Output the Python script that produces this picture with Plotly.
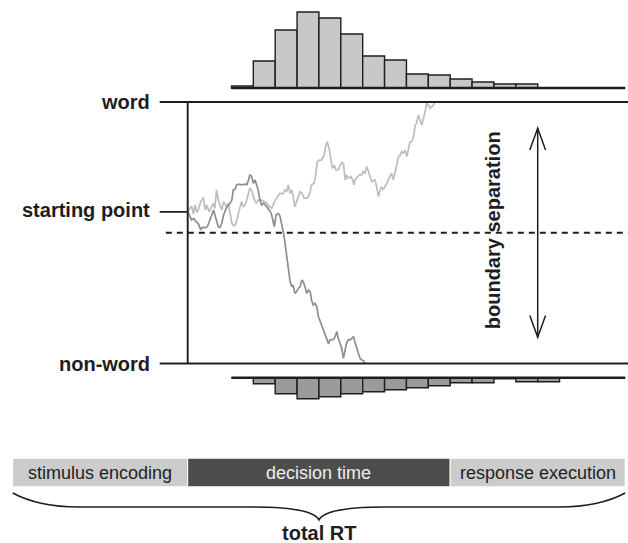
import numpy as np
import plotly.graph_objects as go

# ---------------- data ----------------
stage_labels = ["stimulus encoding", "decision time", "response execution"]
stage_ms = [400, 600, 400]                      # durations of the RT components (ms)

boundary_labels = ["word", "starting point", "non-word"]
boundary_word = 1.0                             # upper boundary (a)
boundary_nonword = 0.0                          # lower boundary
start_point = 0.58                              # starting point z
mid_line = 0.5                                  # a / 2 (dashed)
sep_arrow = [0.1, 0.9]                          # extent of boundary-separation arrow
sep_arrow_ms = 1200                             # time position of arrow

bin_centers = [525, 575, 625, 675, 725, 775, 825, 875, 925,
               975, 1025, 1075, 1125, 1175, 1225, 1275, 1325, 1375]
bin_width_ms = 50
word_counts = [2, 27, 58, 76, 70, 54, 32, 28, 14, 13, 9, 6, 4, 4, 0, 0, 0, 0]
nonword_counts = [0, 6, 16, 21, 19, 16, 14, 12, 10, 8, 5, 5, 1, 4, 4, 0, 0, 0]

# sample paths: time since decision onset (ms) and accumulated evidence
word_path_t = [0, 9, 13, 17, 21, 24, 30, 36, 40, 43,
               49, 55, 59, 62, 66, 70, 74, 78, 82, 88,
               93, 97, 101, 106, 110, 116, 120, 123, 127, 131,
               135, 139, 142, 146, 150, 156, 161, 169, 181, 187,
               192, 200, 205, 211, 217, 222, 226, 230, 234, 238,
               241, 245, 249, 253, 257, 261, 266, 272, 276, 280,
               283, 289, 293, 296, 301, 306, 312, 316, 319, 323,
               327, 331, 335, 339, 344, 352, 356, 360, 363, 367,
               373, 377, 380, 383, 388, 392, 398, 401, 405, 409,
               413, 417, 421, 424, 428, 432, 436, 440, 443, 447,
               451, 455, 461, 466, 470, 476, 482, 485, 489, 493,
               497, 501, 504, 508, 512, 516, 520, 523, 527, 531,
               535, 539, 542, 546, 550, 554, 558, 562, 565]
word_path_e = [0.581, 0.602, 0.572, 0.606, 0.577, 0.587, 0.619, 0.635, 0.587, 0.606,
               0.581, 0.600, 0.613, 0.593, 0.664, 0.625, 0.606, 0.587, 0.619, 0.600,
               0.613, 0.574, 0.536, 0.526, 0.534, 0.574, 0.606, 0.619, 0.600, 0.606,
               0.625, 0.651, 0.670, 0.664, 0.638, 0.613, 0.625, 0.625, 0.613, 0.600,
               0.593, 0.625, 0.638, 0.651, 0.648, 0.664, 0.657, 0.683, 0.651, 0.664,
               0.638, 0.600, 0.619, 0.638, 0.657, 0.651, 0.632, 0.632, 0.638, 0.657,
               0.683, 0.689, 0.727, 0.772, 0.778, 0.778, 0.797, 0.836, 0.848, 0.823,
               0.791, 0.746, 0.759, 0.740, 0.740, 0.768, 0.765, 0.702, 0.721, 0.708,
               0.715, 0.702, 0.683, 0.704, 0.712, 0.721, 0.721, 0.734, 0.727, 0.753,
               0.734, 0.717, 0.695, 0.699, 0.702, 0.676, 0.638, 0.664, 0.676, 0.664,
               0.676, 0.689, 0.712, 0.727, 0.702, 0.746, 0.791, 0.794, 0.810, 0.804,
               0.816, 0.791, 0.823, 0.848, 0.848, 0.867, 0.912, 0.918, 0.950, 0.931,
               0.912, 0.938, 0.957, 0.995, 0.989, 0.976, 0.982, 0.989, 1.000]

nonword_path_t = [0, 9, 14, 19, 24, 30, 34, 40, 45, 49,
                  55, 59, 62, 66, 70, 74, 78, 82, 88, 93,
                  97, 101, 104, 108, 112, 116, 123, 131, 135, 139,
                  142, 146, 150, 154, 158, 161, 165, 169, 173, 177,
                  181, 184, 188, 192, 196, 198, 202, 207, 211, 215,
                  219, 222, 226, 230, 234, 238, 241, 245, 249, 253,
                  257, 261, 264, 268, 272, 276, 280, 283, 287, 291,
                  295, 299, 302, 306, 310, 314, 318, 322, 325, 329,
                  333, 337, 341, 344, 348, 352, 356, 360, 363, 367,
                  371, 375, 379, 382, 386, 390, 394, 398, 402, 405]
nonword_path_e = [0.581, 0.549, 0.555, 0.542, 0.536, 0.511, 0.521, 0.519, 0.523, 0.539,
                  0.568, 0.587, 0.568, 0.542, 0.523, 0.521, 0.536, 0.568, 0.593, 0.606,
                  0.613, 0.625, 0.664, 0.666, 0.683, 0.686, 0.683, 0.686, 0.683, 0.702,
                  0.721, 0.717, 0.689, 0.702, 0.683, 0.664, 0.625, 0.606, 0.613, 0.606,
                  0.600, 0.590, 0.584, 0.568, 0.542, 0.523, 0.568, 0.574, 0.564, 0.536,
                  0.498, 0.466, 0.421, 0.370, 0.313, 0.294, 0.300, 0.268, 0.275, 0.288,
                  0.294, 0.319, 0.313, 0.294, 0.268, 0.281, 0.275, 0.243, 0.224, 0.230,
                  0.217, 0.179, 0.166, 0.147, 0.128, 0.109, 0.096, 0.075, 0.090, 0.090,
                  0.092, 0.103, 0.122, 0.096, 0.077, 0.058, 0.020, 0.058, 0.077, 0.090,
                  0.090, 0.096, 0.103, 0.084, 0.058, 0.039, 0.020, 0.013, 0.011, 0.000]

# ---------------- layout helpers ----------------
W, H = 628, 543
X_RANGE = [-29.0, 1406.4]            # time axis (ms) spanning the full width
def py(y_px):                         # pixel row -> paper fraction
    return 1 - y_px / H

FONT = "Liberation Sans, Arial, Helvetica, sans-serif"
INK = "#1e1e1e"

t0 = stage_ms[0]                       # decision onset
stage_base = np.concatenate([[0], np.cumsum(stage_ms)[:-1]])
total_rt = float(np.sum(stage_ms))
tick_start = t0 - 64                   # left end of boundary tick lines
label_x = tick_start - 18

fig = go.Figure()

# sample paths
fig.add_trace(go.Scatter(x=np.array(word_path_t) + t0, y=word_path_e, mode="lines",
                         line=dict(color="#bdbdbd", width=1.7), xaxis="x", yaxis="y",
                         hoverinfo="skip"))
fig.add_trace(go.Scatter(x=np.array(nonword_path_t) + t0, y=nonword_path_e, mode="lines",
                         line=dict(color="#8e8e8e", width=1.7), xaxis="x", yaxis="y",
                         hoverinfo="skip"))

# RT histograms (baseline + bars)
h_lo = bin_centers[0] - bin_width_ms / 2
h_hi = bin_centers[-1] + bin_width_ms / 2
for ya in ["y2", "y3"]:
    fig.add_trace(go.Scatter(x=[h_lo, h_hi], y=[0, 0], mode="lines",
                             line=dict(color=INK, width=2.4), xaxis="x", yaxis=ya,
                             hoverinfo="skip"))
fig.add_trace(go.Bar(x=bin_centers, y=word_counts, width=bin_width_ms,
                     marker=dict(color="#c8c8c8", line=dict(color=INK, width=1.4)),
                     xaxis="x", yaxis="y2", hoverinfo="skip"))
fig.add_trace(go.Bar(x=bin_centers, y=nonword_counts, width=bin_width_ms,
                     marker=dict(color="#9b9b9b", line=dict(color=INK, width=1.4)),
                     xaxis="x", yaxis="y3", hoverinfo="skip"))

# RT components bar
fig.add_trace(go.Bar(x=stage_ms, base=stage_base, y=[0, 0, 0], orientation="h", width=1,
                     marker=dict(color=["#cccccc", "#4d4d4d", "#cccccc"],
                                 line=dict(color="white", width=1)),
                     xaxis="x", yaxis="y4", hoverinfo="skip"))

shapes = []
line_k = dict(color=INK, width=1.9)
for yv in [boundary_word, boundary_nonword]:
    shapes.append(dict(type="line", xref="x", yref="y", x0=tick_start, x1=X_RANGE[1],
                       y0=yv, y1=yv, line=line_k))
shapes.append(dict(type="line", xref="x", yref="y", x0=tick_start, x1=t0,
                   y0=start_point, y1=start_point, line=line_k))
shapes.append(dict(type="line", xref="x", yref="y", x0=t0, x1=t0,
                   y0=boundary_nonword, y1=boundary_word, line=line_k))
shapes.append(dict(type="line", xref="x", yref="y", x0=t0 - 50, x1=X_RANGE[1],
                   y0=mid_line, y1=mid_line, line=dict(color=INK, width=1.8, dash="6px,5px")))
# boundary separation arrow
shapes.append(dict(type="line", xref="x", yref="y", x0=sep_arrow_ms, x1=sep_arrow_ms,
                   y0=sep_arrow[0], y1=sep_arrow[1], line=dict(color=INK, width=1.5)))
hx, hy = 18, 0.084
shapes.append(dict(type="path", xref="x", yref="y",
                   path=f"M {sep_arrow_ms-hx},{sep_arrow[1]-hy} L {sep_arrow_ms},{sep_arrow[1]} L {sep_arrow_ms+hx},{sep_arrow[1]-hy}",
                   line=dict(color=INK, width=1.5)))
shapes.append(dict(type="path", xref="x", yref="y",
                   path=f"M {sep_arrow_ms-hx},{sep_arrow[0]+hy} L {sep_arrow_ms},{sep_arrow[0]} L {sep_arrow_ms+hx},{sep_arrow[0]+hy}",
                   line=dict(color=INK, width=1.5)))
# curly brace under the RT components
mid = total_rt / 2
y_end, y_flat, y_tip = py(493), py(507), py(520)
brace = (f"M 0,{y_end} Q 60,{y_flat} 150,{y_flat} L {mid-150},{y_flat} "
         f"C {mid-60},{y_flat} {mid-10},{py(511)} {mid},{y_tip} "
         f"C {mid+10},{py(511)} {mid+60},{y_flat} {mid+150},{y_flat} "
         f"L {total_rt-150},{y_flat} Q {total_rt-60},{y_flat} {total_rt},{y_end}")
shapes.append(dict(type="path", xref="x", yref="paper", path=brace,
                   line=dict(color=INK, width=1.6)))

ann = []
bold20 = dict(family=FONT, size=20, color=INK)
for lab, yv in zip(boundary_labels, [boundary_word, start_point, boundary_nonword]):
    ann.append(dict(x=label_x, y=yv, xref="x", yref="y", text=f"<b>{lab}</b>",
                    showarrow=False, xanchor="right", yanchor="middle",
                    yshift=2 if lab == "starting point" else 0, font=bold20))
ann.append(dict(x=1098, y=(sep_arrow[0] + sep_arrow[1]) / 2 + 0.01, xref="x", yref="y",
                text="<b>boundary separation</b>", textangle=-90, showarrow=False,
                xanchor="center", yanchor="middle", font=bold20))
for lab, b, d in zip(stage_labels, stage_base, stage_ms):
    ann.append(dict(x=b + d / 2, y=0, xref="x", yref="y4", text=lab, showarrow=False,
                    xanchor="center", yanchor="middle",
                    font=dict(family=FONT, size=18,
                              color="#eeeeee" if lab == "decision time" else "#222222")))
ann.append(dict(x=mid, y=py(533), xref="x", yref="paper", text="<b>total RT</b>",
                showarrow=False, xanchor="center", yanchor="middle", font=bold20))

# main evidence axis: 0 -> y=363.5px, 1 -> y=102px (padding 0.02)
ppu = 363.5 - 102
ax_off = dict(visible=False, showgrid=False, zeroline=False, fixedrange=True)
fig.update_layout(
    width=W, height=H, margin=dict(l=0, r=0, t=0, b=0),
    paper_bgcolor="white", plot_bgcolor="white", showlegend=False, barmode="overlay",
    xaxis=dict(range=X_RANGE, domain=[0, 1], **ax_off),
    yaxis=dict(range=[-0.02, 1.02], domain=[py(363.5 + 0.02 * ppu), py(102 - 0.02 * ppu)],
               anchor="x", **ax_off),
    yaxis2=dict(range=[-2, 88], domain=[py(90), py(0)], anchor="x", **ax_off),
    yaxis3=dict(range=[40, -2], domain=[py(417.7), py(375.7)], anchor="x", **ax_off),
    yaxis4=dict(range=[-0.5, 0.5], domain=[py(486.7), py(458.3)], anchor="x", **ax_off),
    shapes=shapes, annotations=ann,
)

fig.write_html("out.html", config={"displayModeBar": False},
               post_script="document.body.style.margin='0';document.body.style.overflow='hidden';")
